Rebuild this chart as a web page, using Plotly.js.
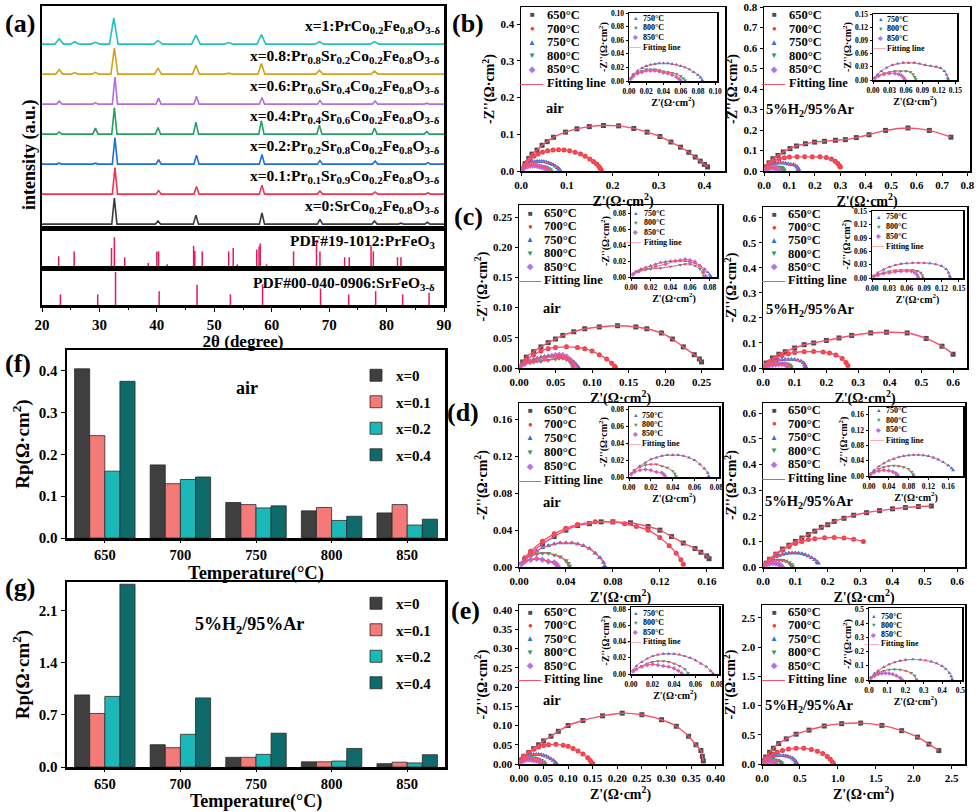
<!DOCTYPE html>
<html>
<head>
<meta charset="utf-8">
<script src="https://cdn.plot.ly/plotly-3.0.1.min.js"></script>
<style>
  html, body { margin: 0; padding: 0; background: #fff; }
  #fig { width: 979px; height: 812px; }
</style>
</head>
<body>
<div id="fig"></div>
<script>
/* global Plotly */

// ---------- (a) XRD patterns: [2theta, height in units of stack spacing] ----------
const xrdLabels = [
  "x=0:SrCo<sub>0.2</sub>Fe<sub>0.8</sub>O<sub>3-δ</sub>",
  "x=0.1:Pr<sub>0.1</sub>Sr<sub>0.9</sub>Co<sub>0.2</sub>Fe<sub>0.8</sub>O<sub>3-δ</sub>",
  "x=0.2:Pr<sub>0.2</sub>Sr<sub>0.8</sub>Co<sub>0.2</sub>Fe<sub>0.8</sub>O<sub>3-δ</sub>",
  "x=0.4:Pr<sub>0.4</sub>Sr<sub>0.6</sub>Co<sub>0.2</sub>Fe<sub>0.8</sub>O<sub>3-δ</sub>",
  "x=0.6:Pr<sub>0.6</sub>Sr<sub>0.4</sub>Co<sub>0.2</sub>Fe<sub>0.8</sub>O<sub>3-δ</sub>",
  "x=0.8:Pr<sub>0.8</sub>Sr<sub>0.2</sub>Co<sub>0.2</sub>Fe<sub>0.8</sub>O<sub>3-δ</sub>",
  "x=1:PrCo<sub>0.2</sub>Fe<sub>0.8</sub>O<sub>3-δ</sub>",
];
const xrdColors = ["#3a3a3a", "#f2334f", "#1f6fd6", "#24a064", "#b46ee0", "#d4a020", "#22c2c2"];
const peaksX0 = [[32.6, 0.87], [40.2, 0.1], [46.8, 0.3], [58.3, 0.37], [68.4, 0.16], [77.9, 0.1], [82.5, 0.03], [87.1, 0.06]];
const peaksX01 = [[32.7, 0.88], [40.3, 0.12], [46.9, 0.25], [58.3, 0.3], [68.4, 0.1], [78.0, 0.07], [87.2, 0.04]];
const peaksX02 = [[23.0, 0.03], [29.3, 0.03], [32.7, 0.88], [40.3, 0.15], [46.9, 0.3], [58.3, 0.32], [68.4, 0.12], [78.0, 0.1], [83.0, 0.02], [87.2, 0.05]];
const peaksX04 = [[23.0, 0.07], [29.3, 0.2], [32.6, 0.88], [40.2, 0.22], [46.8, 0.4], [58.2, 0.45], [68.3, 0.3], [77.9, 0.2], [87.0, 0.08]];
const peaksX06 = [[23.0, 0.1], [29.3, 0.05], [32.7, 0.9], [40.3, 0.2], [46.9, 0.26], [58.3, 0.22], [68.4, 0.12], [78.0, 0.1], [87.0, 0.03]];
const peaksX08 = [[23.0, 0.15], [25.7, 0.05], [29.3, 0.06], [32.6, 0.87], [40.2, 0.2], [46.8, 0.3], [52.5, 0.03], [58.2, 0.35], [68.3, 0.13], [77.9, 0.1]];
const peaksX1 = [[23.0, 0.18], [25.7, 0.08], [29.3, 0.06], [32.5, 0.87], [40.2, 0.12], [46.8, 0.3], [52.5, 0.05], [58.2, 0.32], [68.3, 0.08], [77.9, 0.08]];
const xrdPeaks = [peaksX0, peaksX01, peaksX02, peaksX04, peaksX06, peaksX08, peaksX1];
const xrdHalfWidth = [0.45, 0.45, 0.45, 0.45, 0.45, 0.6, 0.75];

const prFeO3Pos = [22.9, 25.6, 32.1, 32.6, 34.4, 38.5, 40.0, 40.3, 41.8, 46.4, 46.6, 47.9, 52.5, 53.3, 54.0, 57.4, 57.8, 58.0, 59.1, 63.8, 67.8, 68.4, 72.7, 73.5, 77.3, 77.7, 81.9, 82.5];
const prFeO3Int = [0.38, 0.54, 0.65, 1.0, 0.35, 0.16, 0.54, 0.54, 0.12, 0.72, 0.55, 0.54, 0.54, 0.65, 0.12, 0.6, 0.7, 0.8, 0.12, 0.54, 0.91, 0.54, 0.35, 0.35, 0.72, 0.54, 0.35, 0.35];
const srFeO3Pos = [23.2, 29.7, 32.8, 40.4, 47.0, 52.8, 58.4, 68.5, 73.4, 78.1, 82.8, 87.4];
const srFeO3Int = [0.32, 0.32, 1.0, 0.42, 0.61, 0.32, 0.63, 0.5, 0.32, 0.42, 0.32, 0.37];

// ---------- (f)/(g) polarization resistance ----------
const tempCats = ["650", "700", "750", "800", "850"];
const barNames = ["x=0", "x=0.1", "x=0.2", "x=0.4"];
const barColors = ["#3f3f3f", "#f47a7a", "#1cb8b8", "#0f6b6b"];
const rpAirX0 = [0.405, 0.175, 0.085, 0.065, 0.06];
const rpAirX01 = [0.245, 0.13, 0.08, 0.073, 0.08];
const rpAirX02 = [0.16, 0.14, 0.072, 0.042, 0.031];
const rpAirX04 = [0.375, 0.146, 0.077, 0.052, 0.045];
const rpH2X0 = [0.97, 0.3, 0.13, 0.07, 0.045];
const rpH2X01 = [0.72, 0.26, 0.13, 0.07, 0.065];
const rpH2X02 = [0.95, 0.44, 0.17, 0.08, 0.055];
const rpH2X04 = [2.46, 0.93, 0.455, 0.25, 0.165];

// ---------- (b)-(e) Nyquist data: [Z', -Z''] ----------
const tempNames = ["650°C", "700°C", "750°C", "800°C", "850°C"];
const bAir650 = [[0.009,0.02],[0.017,0.034],[0.024,0.046],[0.035,0.057],[0.046,0.07],[0.057,0.08],[0.071,0.092],[0.097,0.106],[0.122,0.115],[0.149,0.121],[0.18,0.124],[0.213,0.123],[0.246,0.116],[0.275,0.106],[0.303,0.094],[0.327,0.079],[0.348,0.065],[0.366,0.051],[0.38,0.038],[0.391,0.027],[0.4,0.018],[0.407,0.011]];
const bAir700 = [[0.004,0.008],[0.008,0.016],[0.013,0.024],[0.02,0.032],[0.028,0.04],[0.037,0.046],[0.047,0.051],[0.058,0.055],[0.07,0.057],[0.082,0.058],[0.094,0.057],[0.106,0.055],[0.118,0.051],[0.13,0.046],[0.14,0.04],[0.15,0.033],[0.158,0.026],[0.165,0.019],[0.17,0.012],[0.173,0.006],[0.175,0.002]];
const bAir750 = [[0.002,0.004],[0.005,0.01],[0.01,0.015],[0.015,0.019],[0.02,0.022],[0.025,0.024],[0.03,0.025],[0.035,0.026],[0.04,0.026],[0.045,0.026],[0.05,0.025],[0.055,0.024],[0.06,0.022],[0.065,0.02],[0.07,0.017],[0.075,0.013],[0.08,0.009],[0.083,0.005],[0.085,0.001]];
const bAir800 = [[0.002,0.004],[0.005,0.008],[0.01,0.012],[0.015,0.015],[0.02,0.017],[0.025,0.017],[0.03,0.017],[0.035,0.016],[0.04,0.014],[0.045,0.013],[0.05,0.012],[0.055,0.01],[0.06,0.007],[0.063,0.004],[0.065,0.001]];
const bAir850 = [[0.002,0.003],[0.005,0.007],[0.01,0.011],[0.015,0.013],[0.02,0.015],[0.025,0.015],[0.03,0.015],[0.035,0.014],[0.04,0.012],[0.045,0.011],[0.05,0.009],[0.055,0.006],[0.058,0.003],[0.06,0.001]];

const bH2650 = [[0.01,0.02],[0.02,0.04],[0.035,0.06],[0.055,0.076],[0.076,0.093],[0.102,0.109],[0.128,0.122],[0.163,0.133],[0.199,0.141],[0.238,0.145],[0.281,0.15],[0.32,0.153],[0.363,0.163],[0.413,0.177],[0.478,0.198],[0.566,0.21],[0.65,0.198],[0.735,0.165]];
const bH2700 = [[0.005,0.012],[0.01,0.02],[0.02,0.035],[0.04,0.05],[0.06,0.06],[0.08,0.065],[0.1,0.068],[0.13,0.069],[0.16,0.069],[0.19,0.069],[0.22,0.069],[0.245,0.066],[0.265,0.058],[0.28,0.048],[0.29,0.036],[0.297,0.026],[0.3,0.02]];
const bH2750 = [[0.003,0.005],[0.008,0.012],[0.015,0.02],[0.025,0.028],[0.035,0.034],[0.045,0.037],[0.055,0.039],[0.065,0.039],[0.075,0.039],[0.085,0.037],[0.095,0.034],[0.105,0.032],[0.115,0.03],[0.123,0.027],[0.13,0.02],[0.134,0.012],[0.136,0.005],[0.137,0.001]];
const bH2800 = [[0.003,0.004],[0.01,0.01],[0.02,0.015],[0.03,0.018],[0.04,0.02],[0.05,0.02],[0.06,0.02],[0.068,0.018],[0.073,0.013],[0.076,0.007],[0.078,0.002]];
const bH2850 = [[0.003,0.004],[0.01,0.009],[0.02,0.013],[0.03,0.015],[0.04,0.015],[0.047,0.013],[0.052,0.01],[0.056,0.005],[0.058,0.001]];

const cAir650 = [[0.005,0.01],[0.01,0.018],[0.02,0.027],[0.03,0.035],[0.04,0.042],[0.05,0.048],[0.06,0.054],[0.075,0.06],[0.09,0.065],[0.11,0.068],[0.135,0.07],[0.16,0.068],[0.175,0.065],[0.195,0.058],[0.21,0.048],[0.225,0.035],[0.24,0.022],[0.247,0.015],[0.25,0.01]];
const cAir700 = [[0.005,0.008],[0.01,0.013],[0.02,0.022],[0.03,0.028],[0.04,0.032],[0.05,0.034],[0.065,0.035],[0.08,0.034],[0.09,0.032],[0.1,0.028],[0.11,0.022],[0.12,0.015],[0.127,0.008],[0.131,0.003],[0.132,0.001]];
const cAir750 = [[0.002,0.004],[0.005,0.007],[0.01,0.01],[0.015,0.012],[0.02,0.014],[0.025,0.016],[0.03,0.018],[0.035,0.019],[0.04,0.02],[0.045,0.02],[0.05,0.02],[0.055,0.02],[0.06,0.019],[0.065,0.017],[0.07,0.014],[0.075,0.01],[0.078,0.006],[0.08,0.003],[0.081,0.001]];
const cAir800 = [[0.002,0.003],[0.008,0.007],[0.015,0.009],[0.02,0.01],[0.03,0.011],[0.04,0.013],[0.05,0.015],[0.055,0.016],[0.06,0.016],[0.065,0.014],[0.07,0.01],[0.073,0.005],[0.074,0.001]];
const cAir850 = [[0.002,0.003],[0.008,0.007],[0.015,0.01],[0.025,0.013],[0.035,0.016],[0.045,0.02],[0.05,0.021],[0.055,0.022],[0.06,0.021],[0.065,0.019],[0.07,0.014],[0.074,0.007],[0.076,0.001]];

const cH2650 = [[0.01,0.02],[0.03,0.04],[0.05,0.055],[0.07,0.065],[0.1,0.08],[0.13,0.093],[0.16,0.1],[0.2,0.11],[0.24,0.12],[0.28,0.13],[0.34,0.14],[0.39,0.143],[0.455,0.14],[0.515,0.118],[0.565,0.087],[0.6,0.055]];
const cH2700 = [[0.01,0.015],[0.02,0.025],[0.04,0.04],[0.06,0.05],[0.08,0.057],[0.1,0.062],[0.13,0.065],[0.16,0.066],[0.19,0.064],[0.21,0.06],[0.23,0.052],[0.25,0.038],[0.262,0.022],[0.268,0.01]];
const cH2750 = [[0.003,0.005],[0.01,0.012],[0.02,0.019],[0.03,0.025],[0.04,0.029],[0.05,0.032],[0.06,0.033],[0.07,0.034],[0.08,0.034],[0.09,0.034],[0.1,0.033],[0.11,0.031],[0.12,0.027],[0.128,0.02],[0.132,0.012],[0.134,0.005],[0.135,0.001]];
const cH2800 = [[0.003,0.004],[0.01,0.008],[0.02,0.012],[0.03,0.015],[0.04,0.017],[0.05,0.018],[0.06,0.018],[0.07,0.018],[0.078,0.016],[0.084,0.012],[0.087,0.006],[0.088,0.001]];
const cH2850 = [[0.003,0.003],[0.01,0.006],[0.02,0.01],[0.03,0.012],[0.04,0.014],[0.05,0.015],[0.06,0.016],[0.068,0.015],[0.074,0.012],[0.078,0.007],[0.08,0.001]];

const dAir650 = [[0.005,0.008],[0.01,0.015],[0.02,0.025],[0.03,0.033],[0.04,0.04],[0.05,0.045],[0.06,0.047],[0.07,0.049],[0.08,0.049],[0.095,0.048],[0.11,0.044],[0.12,0.04],[0.13,0.033],[0.14,0.026],[0.15,0.02],[0.155,0.016],[0.16,0.012],[0.162,0.009]];
const dAir700 = [[0.005,0.01],[0.01,0.017],[0.02,0.028],[0.03,0.036],[0.04,0.042],[0.05,0.046],[0.065,0.049],[0.08,0.049],[0.09,0.047],[0.1,0.044],[0.11,0.04],[0.12,0.032],[0.128,0.023],[0.134,0.015],[0.138,0.008],[0.14,0.003]];
const dAir750 = [[0.002,0.004],[0.005,0.008],[0.01,0.013],[0.015,0.017],[0.02,0.021],[0.025,0.023],[0.03,0.025],[0.035,0.026],[0.04,0.026],[0.045,0.026],[0.05,0.025],[0.055,0.023],[0.06,0.02],[0.065,0.015],[0.069,0.01],[0.072,0.005],[0.073,0.001]];
const dAir800 = [[0.002,0.004],[0.005,0.008],[0.01,0.012],[0.015,0.014],[0.02,0.015],[0.025,0.015],[0.03,0.013],[0.035,0.011],[0.04,0.007],[0.042,0.004],[0.043,0.001]];
const dAir850 = [[0.002,0.003],[0.005,0.006],[0.01,0.008],[0.015,0.009],[0.02,0.008],[0.025,0.006],[0.03,0.005],[0.032,0.003],[0.033,0.001]];

const dH2650 = [[0.01,0.015],[0.02,0.03],[0.04,0.05],[0.06,0.07],[0.08,0.085],[0.1,0.1],[0.12,0.113],[0.14,0.127],[0.16,0.14],[0.18,0.155],[0.2,0.165],[0.22,0.178],[0.25,0.19],[0.28,0.202],[0.32,0.212],[0.36,0.22],[0.4,0.227],[0.44,0.232],[0.48,0.236],[0.52,0.238]];
const dH2700 = [[0.01,0.015],[0.02,0.03],[0.04,0.05],[0.06,0.065],[0.08,0.08],[0.1,0.092],[0.12,0.1],[0.14,0.107],[0.16,0.11],[0.19,0.114],[0.22,0.115],[0.25,0.113],[0.28,0.108],[0.31,0.1]];
const dH2750 = [[0.003,0.006],[0.01,0.015],[0.02,0.025],[0.03,0.033],[0.04,0.04],[0.05,0.045],[0.06,0.049],[0.07,0.052],[0.08,0.054],[0.09,0.055],[0.1,0.055],[0.11,0.054],[0.12,0.052],[0.13,0.048],[0.14,0.043],[0.15,0.036],[0.16,0.028],[0.167,0.02],[0.17,0.015]];
const dH2800 = [[0.003,0.005],[0.01,0.011],[0.02,0.018],[0.03,0.023],[0.04,0.026],[0.05,0.027],[0.06,0.026],[0.07,0.023],[0.08,0.018],[0.086,0.011],[0.089,0.005],[0.09,0.001]];
const dH2850 = [[0.003,0.004],[0.01,0.009],[0.02,0.013],[0.03,0.015],[0.04,0.014],[0.048,0.011],[0.054,0.007],[0.057,0.003],[0.058,0.001]];

const eAir650 = [[0.005,0.01],[0.01,0.02],[0.02,0.03],[0.03,0.04],[0.04,0.05],[0.05,0.06],[0.065,0.072],[0.08,0.085],[0.1,0.1],[0.13,0.113],[0.17,0.125],[0.21,0.132],[0.25,0.128],[0.29,0.115],[0.32,0.098],[0.345,0.072],[0.36,0.05],[0.37,0.035],[0.373,0.02],[0.375,0.008]];
const eAir700 = [[0.005,0.012],[0.01,0.02],[0.02,0.03],[0.03,0.038],[0.04,0.044],[0.05,0.048],[0.06,0.05],[0.075,0.051],[0.09,0.049],[0.1,0.046],[0.11,0.04],[0.12,0.034],[0.13,0.026],[0.14,0.016],[0.145,0.009],[0.148,0.003],[0.15,0.001]];
const eAir750 = [[0.002,0.005],[0.005,0.01],[0.01,0.015],[0.015,0.019],[0.02,0.022],[0.025,0.024],[0.03,0.025],[0.035,0.025],[0.04,0.025],[0.045,0.024],[0.05,0.022],[0.055,0.02],[0.06,0.017],[0.065,0.013],[0.07,0.009],[0.074,0.004],[0.076,0.001]];
const eAir800 = [[0.002,0.003],[0.005,0.006],[0.01,0.01],[0.015,0.013],[0.02,0.015],[0.025,0.016],[0.03,0.016],[0.035,0.015],[0.04,0.013],[0.045,0.01],[0.05,0.006],[0.053,0.001]];
const eAir850 = [[0.002,0.003],[0.005,0.006],[0.01,0.009],[0.015,0.011],[0.02,0.012],[0.025,0.011],[0.03,0.01],[0.035,0.009],[0.04,0.007],[0.044,0.004],[0.047,0.001]];

const eH2650 = [[0.02,0.05],[0.05,0.12],[0.1,0.2],[0.15,0.27],[0.22,0.35],[0.32,0.43],[0.45,0.51],[0.62,0.58],[0.82,0.65],[1.05,0.69],[1.3,0.7],[1.58,0.66],[1.84,0.57],[2.05,0.46],[2.2,0.34],[2.33,0.23]];
const eH2700 = [[0.02,0.04],[0.05,0.08],[0.1,0.13],[0.15,0.17],[0.2,0.2],[0.27,0.23],[0.35,0.255],[0.45,0.27],[0.55,0.27],[0.65,0.25],[0.73,0.22],[0.8,0.18],[0.86,0.13],[0.9,0.08],[0.93,0.03],[0.94,0.01]];
const eH2750 = [[0.01,0.02],[0.03,0.045],[0.05,0.065],[0.08,0.09],[0.11,0.11],[0.14,0.125],[0.17,0.135],[0.2,0.142],[0.24,0.145],[0.28,0.143],[0.31,0.138],[0.34,0.13],[0.37,0.117],[0.4,0.098],[0.42,0.078],[0.44,0.05],[0.45,0.025],[0.455,0.005]];
const eH2800 = [[0.01,0.015],[0.03,0.035],[0.05,0.05],[0.08,0.065],[0.11,0.073],[0.14,0.075],[0.17,0.073],[0.2,0.065],[0.23,0.05],[0.25,0.03],[0.26,0.005]];
const eH2850 = [[0.01,0.012],[0.03,0.028],[0.05,0.04],[0.07,0.046],[0.09,0.048],[0.11,0.046],[0.13,0.04],[0.15,0.03],[0.17,0.015],[0.18,0.003]];

// ---------- layout helpers (pixel boxes -> paper domains) ----------
const W = 979, H = 812;
const FONT = "'Liberation Serif', 'Times New Roman', serif";
const bf = (size, color) => ({ family: FONT, size, weight: "bold", color: color || "#000" });

const traces = [];
const layout = {
  width: W, height: H,
  margin: { l: 0, r: 0, t: 0, b: 0 },
  paper_bgcolor: "#fff", plot_bgcolor: "#fff",
  font: { family: FONT, color: "#000" },
  barmode: "group", bargap: 0.2, bargroupgap: 0,
  annotations: [],
};

let nAx = 0;
function subplot(box, xo, yo) {
  nAx += 1;
  const s = nAx === 1 ? "" : String(nAx);
  const [l, r, t, b] = box;
  layout["xaxis" + s] = Object.assign({ domain: [l / W, r / W], anchor: "y" + s }, xo);
  layout["yaxis" + s] = Object.assign({ domain: [1 - b / H, 1 - t / H], anchor: "x" + s }, yo);
  return { xaxis: "x" + s, yaxis: "y" + s };
}

function frame(lw, fontSize, extra) {
  return Object.assign({
    showline: true, mirror: true, linecolor: "#000", linewidth: lw,
    showgrid: false, zeroline: false,
    ticks: "outside", ticklen: 3, tickwidth: 1, tickcolor: "#000",
    tickfont: bf(fontSize),
  }, extra);
}

function note(text, px, py, size, opts) {
  layout.annotations.push(Object.assign({
    text, x: px / W, y: 1 - py / H, xref: "paper", yref: "paper",
    showarrow: false, font: bf(size), xanchor: "center", yanchor: "middle",
  }, opts));
}

// ---------- (a) ----------
const aTop = subplot([42, 444, 6, 228],
  frame(2.5, 15, { range: [20, 90], showticklabels: false, ticks: "" }),
  frame(2.5, 15, { range: [-0.13, 7.27], showticklabels: false, ticks: "" }));
const aMid = subplot([42, 444, 228, 268],
  frame(2.5, 15, { range: [20, 90], showticklabels: false, ticks: "" }),
  frame(2.5, 15, { range: [0, 1.3], showticklabels: false, ticks: "" }));
const aBot = subplot([42, 444, 268, 305],
  frame(2.5, 15, {
    range: [20, 90], dtick: 10, ticklen: 4,
    minor: { dtick: 5, ticklen: 2, ticks: "outside" },
    title: { text: "2θ (degree)", font: bf(17), standoff: 1 },
  }),
  frame(2.5, 15, { range: [0, 1.12], showticklabels: false, ticks: "" }));

function profile(peaks, w, offset) {
  const xs = [20], ys = [offset];
  peaks.forEach(([p, h]) => {
    xs.push(p - w, p, p + w);
    ys.push(offset, offset + h, offset);
  });
  xs.push(90); ys.push(offset);
  return { xs, ys };
}

xrdPeaks.forEach((pk, i) => {
  const { xs, ys } = profile(pk, xrdHalfWidth[i], i);
  traces.push({
    x: xs, y: ys, type: "scatter", mode: "lines", xaxis: aTop.xaxis, yaxis: aTop.yaxis,
    line: { color: xrdColors[i], width: 1.6 }, showlegend: false, hoverinfo: "skip",
  });
  layout.annotations.push({
    text: xrdLabels[i], x: 89.6, y: i + 0.6, xref: aTop.xaxis, yref: aTop.yaxis,
    xanchor: "right", yanchor: "middle", showarrow: false, font: bf(15.5),
  });
});

function sticks(pos, ints, ax) {
  const xs = [], ys = [];
  pos.forEach((p, i) => { xs.push(p, p, null); ys.push(0, ints[i], null); });
  traces.push({
    x: xs, y: ys, type: "scatter", mode: "lines", xaxis: ax.xaxis, yaxis: ax.yaxis,
    line: { color: "#e8185a", width: 1.5 }, showlegend: false, hoverinfo: "skip",
  });
}
sticks(prFeO3Pos, prFeO3Int, aMid);
sticks(srFeO3Pos, srFeO3Int, aBot);
note("PDF#19-1012:PrFeO<sub>3</sub>", 437, 241, 15.5, { xanchor: "right" });
note("PDF#00-040-0906:SrFeO<sub>3-δ</sub>", 437, 283, 15.5, { xanchor: "right" });
note("intensity (a.u.)", 30, 155, 18, { textangle: -90 });

// ---------- (f) and (g) ----------
function barPanel(box, yRange, dtick, series, legendId, tag, tagPos, titleY, titleSize) {
  const ax = subplot(box,
    frame(2.5, 14.5, { type: "category", categoryarray: tempCats, ticklen: 2 }),
    frame(2.5, 15, {
      range: yRange, dtick, tickformat: ".1f", ticklen: 4,
      title: { text: "Rp(Ω·cm<sup>2</sup>)", font: bf(19), standoff: 4 },
    }));
  series.forEach((vals, i) => {
    traces.push({
      type: "bar", x: tempCats, y: vals, name: barNames[i], xaxis: ax.xaxis, yaxis: ax.yaxis,
      marker: { color: barColors[i], line: { color: "#2a2a2a", width: 0.8 } },
      legend: legendId, legendgroup: legendId + i, hoverinfo: "skip",
    });
  });
  note(tag, tagPos[0], tagPos[1], 18);
  note("Temperature(°C)", (box[0] + box[1]) / 2, titleY, titleSize, { borderpad: 0 });
}
barPanel([67, 445, 350, 538], [0, 0.45], 0.1, [rpAirX0, rpAirX01, rpAirX02, rpAirX04], "legend", "air", [247, 388], 573, 18.5);
barPanel([67, 445, 582, 767], [0, 2.49], 0.7, [rpH2X0, rpH2X01, rpH2X02, rpH2X04], "legend2", "5%H<sub>2</sub>/95%Ar", [250, 625], 801, 18);
const legStyle = {
  xanchor: "left", yanchor: "top", font: bf(15), traceorder: "grouped", tracegroupgap: 4,
  bgcolor: "rgba(0,0,0,0)", borderwidth: 0, itemwidth: 30,
};
layout.legend = Object.assign({ x: 356 / W, y: 1 - 359 / H }, legStyle);
layout.legend2 = Object.assign({ x: 356 / W, y: 1 - 587 / H }, legStyle);

// ---------- (b)-(e) Nyquist ----------
const symbols = ["square", "circle", "triangle-up", "triangle-down", "diamond"];
const glyphs = ["■", "●", "▲", "▼", "◆"];
const nyColors = ["#4d4d4d", "#f23b3b", "#2f6fe0", "#22a05a", "#b870e8"];
const FIT = "#f5506e";
const zx = "Z'(Ω·cm<sup>2</sup>)";
const zy = "-Z''(Ω·cm<sup>2</sup>)";
const airTag = "air";
const h2Tag = "5%H<sub>2</sub>/95%Ar";

const nyPanels = [
  { box: [521, 725, 7, 171], xr: [0, 0.445], yr: [0, 0.447], dt: 0.1, fmt: ".1f",
    ibox: [629, 717, 13, 81], ixr: [0, 0.102], iyr: [0, 0.1], idt: 0.02, ifmt: ".2f",
    data: [bAir650, bAir700, bAir750, bAir800, bAir850], leg: [532, 545, 15, 13.6], ileg: [635, 641, 18, 9.7], tag: [airTag, 555, 108] },
  { box: [764, 970, 7, 171], xr: [0, 0.81], yr: [0, 0.8], dt: 0.1, fmt: ".1f",
    ibox: [873, 957, 14, 80], ixr: [0, 0.153], iyr: [0, 0.15], idt: 0.03, ifmt: ".2f",
    data: [bH2650, bH2700, bH2750, bH2800, bH2850], leg: [774, 787, 15, 13.6], ileg: [880, 885, 19, 9.7], tag: [h2Tag, 810, 110] },
  { box: [519, 722, 205, 368], xr: [0, 0.278], yr: [0, 0.27], dt: 0.05, fmt: ".2f",
    ibox: [631, 717, 205, 277], ixr: [0, 0.0874], iyr: [0, 0.09], idt: 0.02, ifmt: ".2f",
    data: [cAir650, cAir700, cAir750, cAir800, cAir850], leg: [530, 542, 213, 13.4], ileg: [635, 642, 213, 9.7], tag: [airTag, 552, 308] },
  { box: [763, 967, 207, 368], xr: [0, 0.644], yr: [0, 0.643], dt: 0.1, fmt: ".1f",
    ibox: [872, 963, 211, 278], ixr: [0, 0.157], iyr: [0, 0.151], idt: 0.03, ifmt: ".2f",
    data: [cH2650, cH2700, cH2750, cH2800, cH2850], leg: [774, 786, 214, 13.2], ileg: [878, 884, 217, 9.7], tag: [h2Tag, 810, 310] },
  { box: [519, 722, 403, 567], xr: [0, 0.173], yr: [0, 0.178], dt: 0.04, fmt: ".2f",
    ibox: [629, 719, 407, 477], ixr: [0, 0.0824], iyr: [0, 0.083], idt: 0.02, ifmt: ".2f",
    data: [dAir650, dAir700, dAir750, dAir800, dAir850], leg: [530, 542, 410, 14], ileg: [635, 640, 415, 9.5], tag: [airTag, 552, 502] },
  { box: [763, 965, 403, 567], xr: [0, 0.624], yr: [0, 0.64], dt: 0.1, fmt: ".1f",
    ibox: [869, 963, 407, 476], ixr: [0, 0.19], iyr: [0, 0.18], idt: 0.04, ifmt: ".2f",
    data: [dH2650, dH2700, dH2750, dH2800, dH2850], leg: [774, 786, 410, 13.6], ileg: [878, 884, 410, 10], tag: [h2Tag, 809, 502] },
  { box: [519, 722, 605, 764], xr: [0, 0.413], yr: [0, 0.413], dt: 0.05, fmt: ".2f",
    ibox: [631, 719, 607, 674], ixr: [0, 0.0818], iyr: [0, 0.083], idt: 0.02, ifmt: ".2f",
    data: [eAir650, eAir700, eAir750, eAir800, eAir850], leg: [530, 542, 612, 13.4], ileg: [635, 641, 613, 9.6], tag: [airTag, 552, 700] },
  { box: [762, 965, 605, 764], xr: [0, 2.675], yr: [0, 2.72], dt: 0.5, fmt: ".1f",
    ibox: [869, 962, 608, 680], ixr: [0, 0.509], iyr: [0, 0.507], idt: 0.1, ifmt: ".1f",
    data: [eH2650, eH2700, eH2750, eH2800, eH2850], leg: [774, 786, 612, 13.4], ileg: [873, 879, 616, 9.3], tag: [h2Tag, 809, 706] },
];

function addArcs(ax, sets, idx, msize, lw) {
  sets.forEach((d, k) => {
    const i = idx[k];
    traces.push({
      x: d.map((q) => q[0]), y: d.map((q) => q[1]), type: "scatter", mode: "markers",
      xaxis: ax.xaxis, yaxis: ax.yaxis, showlegend: false, hoverinfo: "skip",
      marker: { symbol: symbols[i], color: nyColors[i], size: msize },
    });
  });
  sets.forEach((d) => {
    traces.push({
      x: d.map((q) => q[0]), y: d.map((q) => q[1]), type: "scatter", mode: "lines",
      xaxis: ax.xaxis, yaxis: ax.yaxis, showlegend: false, hoverinfo: "skip",
      line: { color: FIT, width: lw, shape: "spline", smoothing: 0.8 },
    });
  });
}

function legendRows(idx, pos, gSize, tSize) {
  const [mx, tx, y0, step] = pos;
  idx.forEach((i, r) => {
    note(glyphs[i], mx, y0 + r * step, gSize, { font: bf(gSize, nyColors[i]) });
    note(tempNames[i], tx, y0 + r * step, tSize, { xanchor: "left" });
  });
  const yf = y0 + idx.length * step;
  note("——", mx - 1, yf, tSize - 1, { font: bf(tSize - 1, FIT) });
  note("Fitting line", tx, yf, tSize, { xanchor: "left" });
}

nyPanels.forEach((p) => {
  const main = subplot(p.box,
    frame(1.5, 11, { range: p.xr, dtick: p.dt, tickformat: p.fmt, title: { text: zx, font: bf(14), standoff: 1 } }),
    frame(1.5, 11, { range: p.yr, dtick: p.dt, tickformat: p.fmt, title: { text: zy, font: bf(14), standoff: 2 } }));
  addArcs(main, p.data, [0, 1, 2, 3, 4], 5, 1.4);

  const ins = subplot(p.ibox,
    frame(1.5, 7.5, { range: p.ixr, dtick: p.idt, tickformat: p.ifmt, ticklen: 2, title: { text: zx, font: bf(10), standoff: 1 } }),
    frame(1.5, 7.5, { range: p.iyr, dtick: p.idt, tickformat: p.ifmt, ticklen: 2, title: { text: zy, font: bf(10), standoff: 1 } }));
  addArcs(ins, p.data.slice(2), [2, 3, 4], 3.5, 1);

  legendRows([0, 1, 2, 3, 4], p.leg, 8, 12.5);
  legendRows([2, 3, 4], p.ileg, 5.5, 8);
  note(p.tag[0], p.tag[1], p.tag[2], 14.5);
});

// ---------- panel letters ----------
note("(a)", 20, 23, 26);
note("(b)", 468, 23, 26);
note("(c)", 468, 217, 26);
note("(d)", 463, 413, 26);
note("(e)", 465, 610, 26);
note("(f)", 18, 363, 26);
note("(g)", 20, 587, 26);

Plotly.newPlot("fig", traces, layout, { displayModeBar: false, staticPlot: true });
</script>
</body>
</html>
